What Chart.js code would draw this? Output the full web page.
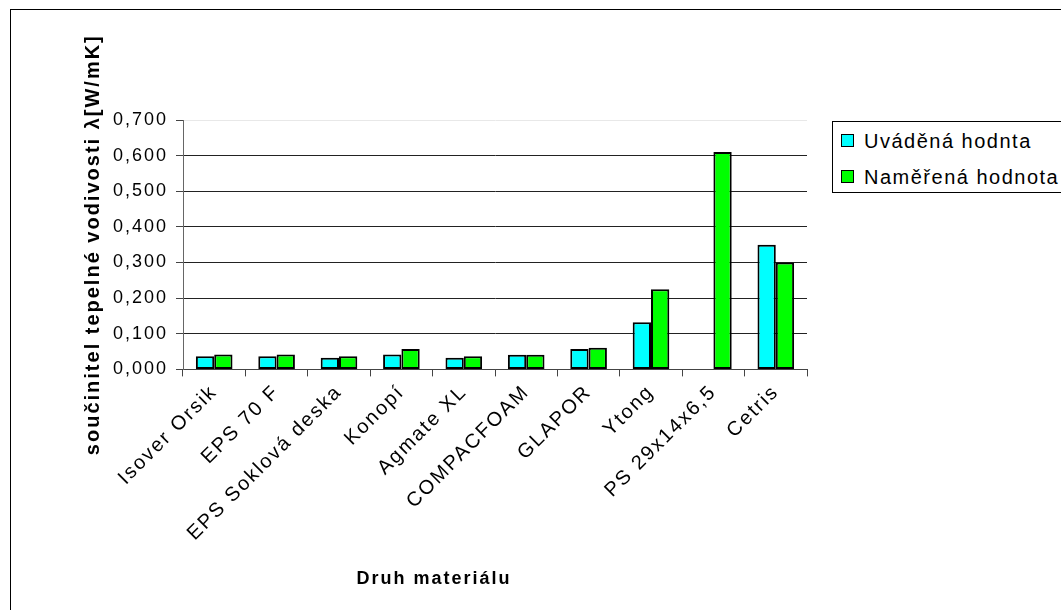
<!DOCTYPE html>
<html lang="cs">
<head>
<meta charset="utf-8">
<title>Součinitel tepelné vodivosti</title>
<script src="https://cdn.jsdelivr.net/npm/chart.js@4.4.1/dist/chart.umd.min.js"></script>
<style>
  html, body { margin: 0; padding: 0; background: #fff; overflow: hidden; }
  #wrap { position: relative; width: 1061px; height: 610px; overflow: hidden; }
  #frame { position: absolute; left: 10px; top: 9px; width: 1200px; height: 800px; border: 1px solid #000; box-sizing: border-box; pointer-events: none; }
  canvas { position: absolute; left: 0; top: 0; }
  #legend { position: absolute; left: 832px; top: 121px; width: 400px; height: 72px; border: 1px solid #000; box-sizing: border-box;
            font-family: 'Liberation Sans', Arial, sans-serif; font-size: 20px; letter-spacing: 1.5px; color: #000; background: #fff; }
  .item { position: absolute; left: 8px; height: 20px; line-height: 20px; white-space: nowrap; }
  .sw { display: inline-block; width: 11px; height: 11px; border: 1px solid #000; vertical-align: middle; margin-right: 10px; position: relative; top: -2px; }
</style>
</head>
<body>
<div id="wrap">
  <canvas id="c" width="1061" height="610"></canvas>
  <div id="frame"></div>
  <div id="legend"></div>
</div>
<script>
// ---- data ----
const categories = ['Isover Orsik', 'EPS 70 F', 'EPS Soklová deska', 'Konopí', 'Agmate XL',
                    'COMPACFOAM', 'GLAPOR', 'Ytong', 'PS 29x14x6,5', 'Cetris'];
const seriesNames = ['Uváděná hodnta', 'Naměřená hodnota'];
const uvadena  = [0.037, 0.037, 0.033, 0.042, 0.033, 0.041, 0.057, 0.132, null, 0.350];
const namerena = [0.042, 0.042, 0.037, 0.057, 0.037, 0.041, 0.061, 0.225, 0.610, 0.300];
const yTickLabels = ['0,000', '0,100', '0,200', '0,300', '0,400', '0,500', '0,600', '0,700'];
const yTitle = 'součinitel tepelné vodivosti λ[W/mK]';
const xTitle = 'Druh materiálu';
const seriesColors = ['#00FFFF', '#00FF00'];

// ---- legend (HTML) ----
const legendEl = document.getElementById('legend');
seriesNames.forEach((n, i) => {
  const d = document.createElement('div');
  d.className = 'item';
  d.style.top = (i === 0 ? 9 : 45) + 'px';
  d.innerHTML = '<span class="sw" style="background:' + seriesColors[i] + '"></span>' + n;
  legendEl.appendChild(d);
});

const spacing = {
  id: 'spacing',
  beforeUpdate(c) { c.ctx.letterSpacing = '2px'; },
  beforeDraw(c) { c.ctx.letterSpacing = '2px'; }
};

Chart.defaults.font.family = "'Liberation Sans', Arial, sans-serif";
Chart.defaults.color = '#000';

new Chart(document.getElementById('c'), {
  type: 'bar',
  data: {
    labels: categories,
    datasets: [
      { label: seriesNames[0], data: uvadena, backgroundColor: seriesColors[0], borderColor: '#000', borderWidth: 2, borderSkipped: false },
      { label: seriesNames[1], data: namerena, backgroundColor: seriesColors[1], borderColor: '#000', borderWidth: 2, borderSkipped: false }
    ]
  },
  options: {
    responsive: false,
    animation: false,
    layout: { padding: { left: 0, top: 120, right: 193, bottom: 0 } },
    datasets: { bar: { categoryPercentage: 0.587, barPercentage: 1.0 } },
    plugins: {
      legend: { display: false },
      tooltip: { enabled: false },
      title: {
        display: true, text: xTitle, position: 'bottom', fullSize: true, align: 'center',
        font: { size: 18, weight: 'bold' }, padding: { top: 0, bottom: 20 }, color: '#000'
      }
    },
    scales: {
      x: {
        grid: { offset: true, drawOnChartArea: false, tickLength: 7, color: '#444' },
        border: { color: '#444', width: 1 },
        ticks: { autoSkip: false, minRotation: 45, maxRotation: 45, padding: 4, font: { size: 20 } },
        afterFit(s) { s.height = 199; }
      },
      y: {
        min: 0, max: 0.7,
        ticks: { stepSize: 0.1, padding: 8, font: { size: 18 },
                 callback: (v, i) => yTickLabels[i] },
        grid: { color: (ctx) => (ctx.tick && ctx.tick.value >= 0.7 - 1e-9) ? '#e8e8e8' : '#222',
                tickColor: '#444', tickLength: 7 },
        border: { color: '#666', width: 1 },
        title: { display: true, text: yTitle, font: { size: 20, weight: 'bold' }, padding: { top: 81, bottom: 0 } },
        afterFit(s) { s.width = 183; }
      },
      yR: {
        position: 'right', display: true,
        grid: { display: false }, border: { display: false }, ticks: { display: false },
        afterFit(s) { s.width = 61; }
      }
    }
  },
  plugins: [spacing]
});
</script>
</body>
</html>
